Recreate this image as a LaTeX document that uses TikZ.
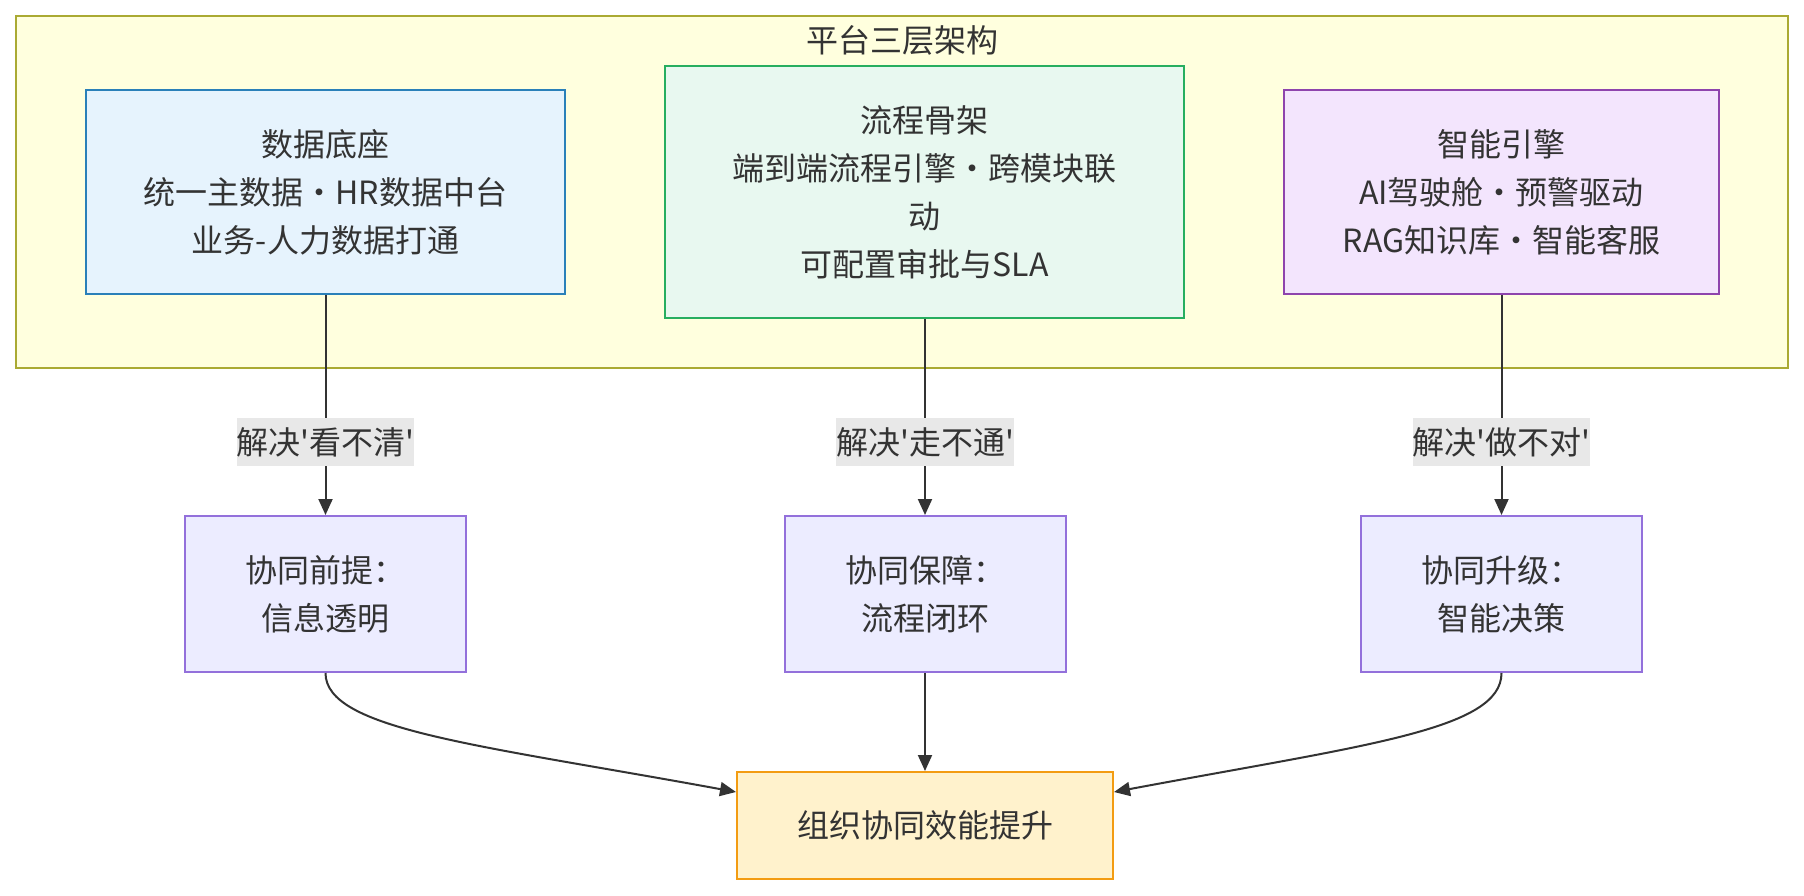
\documentclass[tikz,border=0pt]{standalone}
\usepackage{fontspec}
\setmainfont{Noto Sans CJK SC}[Ligatures=TeXOff]
\usetikzlibrary{arrows.meta}
\definecolor{txt}{HTML}{333333}
\definecolor{edgec}{HTML}{333333}
\definecolor{clfill}{HTML}{FFFFDE}
\definecolor{cldraw}{HTML}{AAAA33}
\definecolor{bfill}{HTML}{E6F3FD}
\definecolor{bdraw}{HTML}{2A80B9}
\definecolor{gfill}{HTML}{E8F8F0}
\definecolor{gdraw}{HTML}{27AE60}
\definecolor{pfill}{HTML}{F3E5FD}
\definecolor{pdraw}{HTML}{8E44AD}
\definecolor{mfill}{HTML}{ECECFF}
\definecolor{mdraw}{HTML}{9370DB}
\definecolor{ofill}{HTML}{FFF2CC}
\definecolor{odraw}{HTML}{F39C12}
\definecolor{lblbg}{HTML}{E8E8E8}
\tikzset{
  basefont/.style={font=\fontsize{32}{48}\selectfont, text=txt},
  boxnode/.style={basefont, draw, line width=2pt, inner sep=0pt, align=center},
  clusterbox/.style={draw=cldraw, fill=clfill, line width=2pt, inner sep=0pt},
  bluebox/.style={boxnode, draw=bdraw, fill=bfill},
  greenbox/.style={boxnode, draw=gdraw, fill=gfill},
  purplebox/.style={boxnode, draw=pdraw, fill=pfill},
  midbox/.style={boxnode, draw=mdraw, fill=mfill, minimum width=281pt, minimum height=156pt},
  goalbox/.style={boxnode, draw=odraw, fill=ofill},
  edgelabel/.style={basefont, fill=lblbg, inner xsep=0pt, inner ysep=0pt, minimum height=48pt},
  link/.style={draw=edgec, line width=2pt, -{Triangle[length=16pt,width=14pt]}},
}
\begin{document}
\begin{tikzpicture}[x=1pt,y=-1pt]
\useasboundingbox (0,0) rectangle (1804,896);
\fill[white] (0,0) rectangle (1804,896);
% cluster
\node[clusterbox, minimum width=1772pt, minimum height=352pt] (cl) at (902,192) {};
\node[basefont, inner sep=0pt] (cltitle) at (902,40) {平台三层架构};
% top boxes
\node[bluebox, minimum width=479pt, minimum height=204pt] (data) at (325.5,192)
  {数据底座\\统一主数据·HR数据中台\\业务-人力数据打通};
\node[greenbox, minimum width=519pt, minimum height=252pt] (flow) at (924.5,192)
  {流程骨架\\端到端流程引擎·跨模块联\\动\\可配置审批与SLA};
\node[purplebox, minimum width=435pt, minimum height=204pt] (ai) at (1501.5,192)
  {智能引擎\\AI驾驶舱·预警驱动\\RAG知识库·智能客服};
% middle boxes
\node[midbox] (pre) at (325.5,594) {协同前提：\\信息透明};
\node[midbox] (guar) at (925,594) {协同保障：\\流程闭环};
\node[midbox] (upg) at (1501.5,594) {协同升级：\\智能决策};
% goal
\node[goalbox, minimum width=376pt, minimum height=107pt] (goal) at (925,825.5) {组织协同效能提升};
\coordinate (goalL) at ([yshift=33.5pt]goal.west);
\coordinate (goalR) at ([yshift=33.5pt]goal.east);
% edges
\draw[link] (data.south -| pre.north) -- (pre.north);
\draw[link] (flow.south -| guar.north) -- (guar.north);
\draw[link] (ai.south -| upg.north) -- (upg.north);
\node[edgelabel] (l1) at (325.5,442) {解决'看不清'};
\node[edgelabel] (l2) at (925,442) {解决'走不通'};
\node[edgelabel] (l3) at (1501.5,442) {解决'做不对'};
\draw[link] (pre.south) .. controls (325.5,730) and (480,745) .. (goalL);
\draw[link] (guar.south) -- (goal.north);
\draw[link] (upg.south) .. controls (1501.5,730) and (1365,745) .. (goalR);
\end{tikzpicture}
\end{document}
